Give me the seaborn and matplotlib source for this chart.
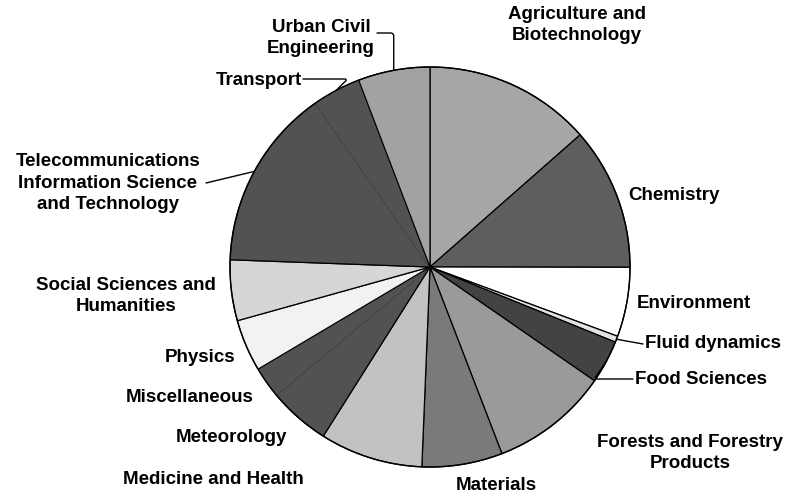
import matplotlib
matplotlib.use("Agg")
import matplotlib.pyplot as plt
import seaborn as sns
import numpy as np

# ---------------- data ----------------
categories = [
    "Agriculture and\nBiotechnology",
    "Chemistry",
    "Environment",
    "Fluid dynamics",
    "Food Sciences",
    "Forests and Forestry\nProducts",
    "Materials",
    "Medicine and Health",
    "Meteorology",
    "Miscellaneous",
    "Physics",
    "Social Sciences and\nHumanities",
    "Telecommunications\nInformation Science\nand Technology",
    "Transport",
    "Urban Civil\nEngineering",
]
shares = [13.5, 11.5, 5.6, 0.5, 3.5, 9.5, 6.5, 8.3, 5.0, 2.5, 4.2, 4.9, 14.7, 3.9, 5.8]

# ---------------- style / layout ----------------
colors = ["#a6a6a6", "#5e5e5e", "#ffffff", "#e2e2e2", "#434343", "#9a9a9a",
          "#7a7a7a", "#c2c2c2", "#525252", "#525252", "#f2f2f2", "#d6d6d6",
          "#525252", "#525252", "#a2a2a2"]
# wedges whose outline blends into the neighbour of same shade
soft_edge = {"Miscellaneous", "Transport"}

W, H = 790, 494
# label placement in pixel coordinates (x, y from top), alignment, leader start or None
label_layout = {
    "Agriculture and\nBiotechnology": ((577, 25), "center", None),
    "Chemistry": ((628, 195), "left", None),
    "Environment": ((637, 303), "left", None),
    "Fluid dynamics": ((645, 343), "left", ((643, 344), "arc3,rad=0")),
    "Food Sciences": ((635, 379), "left", ((633, 379), "angle,angleA=0,angleB=55,rad=3")),
    "Forests and Forestry\nProducts": ((690, 453), "center", None),
    "Materials": ((496, 485), "center", None),
    "Medicine and Health": ((213, 479), "center", None),
    "Meteorology": ((231, 438), "center", None),
    "Miscellaneous": ((190, 398), "center", None),
    "Physics": ((200, 357), "center", None),
    "Social Sciences and\nHumanities": ((126, 296), "center", None),
    "Telecommunications\nInformation Science\nand Technology": ((108, 183), "center", ((206, 183), "arc3,rad=0")),
    "Transport": ((259, 80), "center", ((303, 79), "angle,angleA=0,angleB=45,rad=3")),
    "Urban Civil\nEngineering": ((321, 38), "center", ((377, 33), "angle,angleA=0,angleB=90,rad=3")),
}

sns.set_style("white")
plt.rcParams["font.family"] = ["Liberation Sans", "DejaVu Sans"]

fig = plt.figure(figsize=(W / 100, H / 100), dpi=100)
ax = fig.add_axes([0, 0, 1, 1])

center = (430, H - 267)
radius = 200
wedges, _ = ax.pie(shares, colors=colors, startangle=90, counterclock=False,
                   radius=radius, center=center,
                   wedgeprops=dict(edgecolor="black", linewidth=0.9))

for w, cat in zip(wedges, categories):
    if cat in soft_edge:
        w.set_edgecolor(w.get_facecolor())
    (px, py), ha, leader = label_layout[cat]
    ax.text(px, H - py, cat, ha=ha, va="center", multialignment="center",
            fontsize=13.5, fontweight="bold", linespacing=1.33, color="black")
    if leader is not None:
        (sx, sy), cstyle = leader
        mid = np.deg2rad((w.theta1 + w.theta2) / 2)
        ex = w.center[0] + w.r * np.cos(mid)
        ey = w.center[1] + w.r * np.sin(mid)
        ax.annotate("", xy=(ex, ey), xytext=(sx, H - sy),
                    arrowprops=dict(arrowstyle="-", color="black", lw=1.0,
                                    shrinkA=0, shrinkB=0, connectionstyle=cstyle))

# outer outline of the pie
ax.add_patch(plt.Circle(center, radius, fill=False, edgecolor="black", linewidth=1.0))

ax.set_xlim(0, W)
ax.set_ylim(0, H)
ax.set_aspect("equal")
ax.axis("off")

fig.savefig("out.png", dpi=100, facecolor="white")
